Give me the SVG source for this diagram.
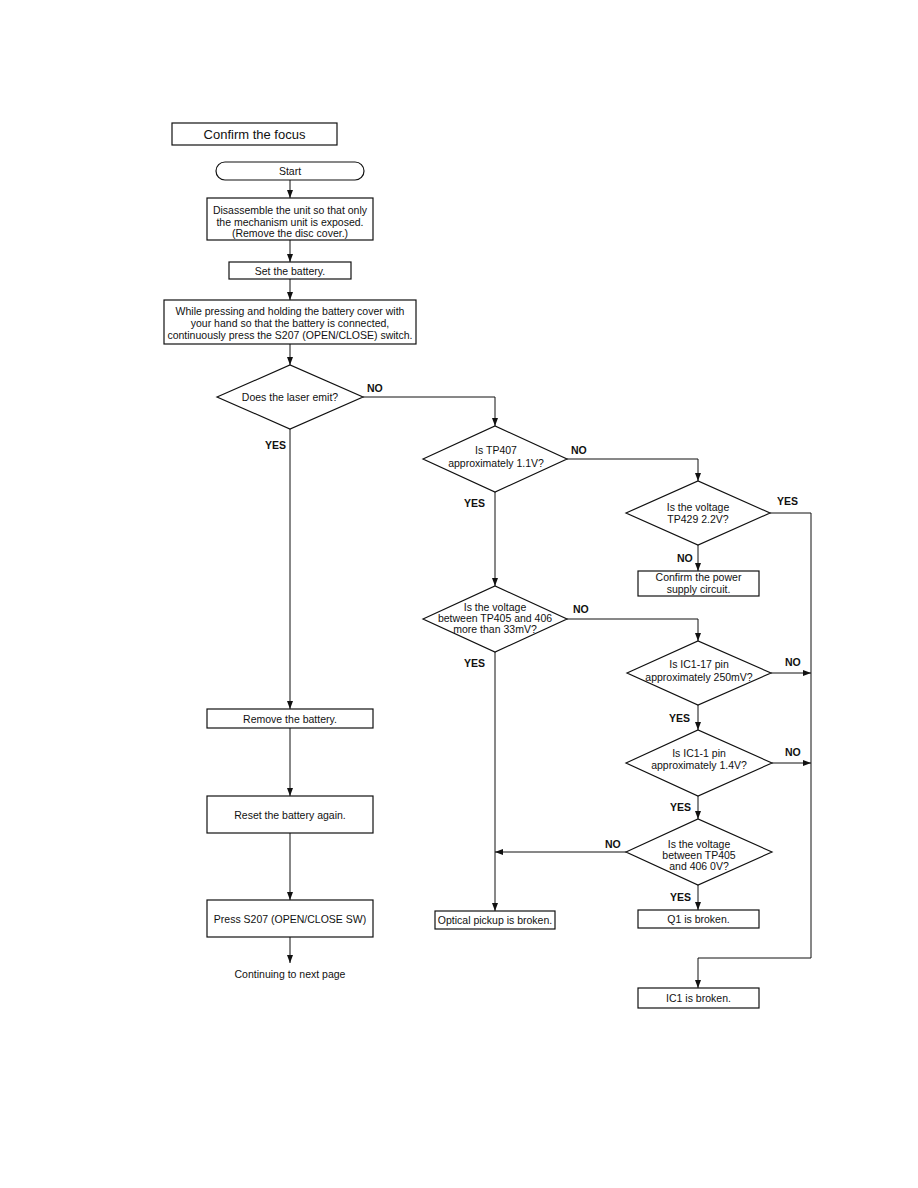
<svg xmlns="http://www.w3.org/2000/svg" width="918" height="1188" viewBox="0 0 918 1188">
<defs>
<marker id="ah" markerUnits="userSpaceOnUse" markerWidth="8" markerHeight="6" refX="8" refY="3" orient="auto">
<path d="M0,0 L8,3 L0,6 z" fill="#111"/>
</marker>
<style>
.box{fill:#fff;stroke:#111;stroke-width:1.2}
.t{font-family:"Liberation Sans",Arial,sans-serif;font-size:10.5px;fill:#111;text-anchor:middle}
.lbl{font-family:"Liberation Sans",Arial,sans-serif;font-size:10.5px;font-weight:bold;fill:#111}
.c{fill:none;stroke:#111;stroke-width:1}
.c line,.c polyline{marker-end:url(#ah)}
</style>
</defs>
<rect width="918" height="1188" fill="#fff"/>

<g id="title">
<rect class="box" x="172" y="123" width="165" height="22"/>
<text class="t" x="254.5" y="139" style="font-size:13px">Confirm the focus</text>
</g>

<g id="connectors" class="c">
<line x1="290" y1="180" x2="290" y2="198"/>
<line x1="290" y1="240" x2="290" y2="262"/>
<line x1="290" y1="279" x2="290" y2="300"/>
<line x1="290" y1="344" x2="290" y2="365"/>
<polyline points="363,397 495,397 495,426"/>
<line x1="290" y1="429" x2="290" y2="709"/>
<line x1="290" y1="728" x2="290" y2="796"/>
<line x1="290" y1="833" x2="290" y2="900"/>
<line x1="290" y1="937" x2="290" y2="963"/>
<polyline points="567,459 698,459 698,481"/>
<line x1="495" y1="492" x2="495" y2="586"/>
<polyline points="770,513 811,513 811,958 698,958 698,988"/>
<line x1="698" y1="545" x2="698" y2="571"/>
<polyline points="567,619 698,619 698,641"/>
<line x1="495" y1="652" x2="495" y2="911"/>
<line x1="771" y1="673" x2="811" y2="673"/>
<line x1="698" y1="705" x2="698" y2="730"/>
<line x1="772" y1="763" x2="811" y2="763"/>
<line x1="698" y1="796" x2="698" y2="819"/>
<line x1="626" y1="852" x2="495" y2="852"/>
<line x1="698" y1="885" x2="698" y2="910"/>
</g>

<g id="labels">
<text class="lbl" x="367" y="392">NO</text>
<text class="lbl" x="265" y="449">YES</text>
<text class="lbl" x="571" y="454">NO</text>
<text class="lbl" x="464" y="507">YES</text>
<text class="lbl" x="777" y="505">YES</text>
<text class="lbl" x="677" y="562">NO</text>
<text class="lbl" x="573" y="613">NO</text>
<text class="lbl" x="464" y="667">YES</text>
<text class="lbl" x="785" y="666">NO</text>
<text class="lbl" x="669" y="722">YES</text>
<text class="lbl" x="785" y="756">NO</text>
<text class="lbl" x="670" y="811">YES</text>
<text class="lbl" x="605" y="848">NO</text>
<text class="lbl" x="670" y="901">YES</text>
</g>

<g id="start">
<rect class="box" x="216" y="162" width="148" height="18" rx="9" ry="9"/>
<text class="t" x="290" y="175">Start</text>
</g>

<g id="disassemble">
<rect class="box" x="207" y="198" width="166" height="42"/>
<text class="t" x="290" y="214">Disassemble the unit so that only</text>
<text class="t" x="290" y="226">the mechanism unit is exposed.</text>
<text class="t" x="290" y="237">(Remove the disc cover.)</text>
</g>

<g id="set-battery">
<rect class="box" x="229" y="262" width="122" height="17"/>
<text class="t" x="290" y="275">Set the battery.</text>
</g>

<g id="press-hold">
<rect class="box" x="164" y="300" width="252" height="44"/>
<text class="t" x="290" y="315">While pressing and holding the battery cover with</text>
<text class="t" x="290" y="327">your hand so that the battery is connected,</text>
<text class="t" x="290" y="339">continuously press the S207 (OPEN/CLOSE) switch.</text>
</g>

<g id="d-laser">
<polygon class="box" points="217,397 290,365 363,397 290,429"/>
<text class="t" x="290" y="401">Does the laser emit?</text>
</g>

<g id="d-tp407">
<polygon class="box" points="423,459 495,426 567,459 495,492"/>
<text class="t" x="496" y="454">Is TP407</text>
<text class="t" x="496" y="467">approximately 1.1V?</text>
</g>

<g id="d-tp429">
<polygon class="box" points="626,513 698,481 770,513 698,545"/>
<text class="t" x="698" y="511">Is the voltage</text>
<text class="t" x="698" y="523">TP429 2.2V?</text>
</g>

<g id="power-supply">
<rect class="box" x="638" y="571" width="121" height="25"/>
<text class="t" x="698.5" y="581">Confirm the power</text>
<text class="t" x="698.5" y="593">supply circuit.</text>
</g>

<g id="d-33mv">
<polygon class="box" points="423,619 495,586 567,619 495,652"/>
<text class="t" x="495" y="611">Is the voltage</text>
<text class="t" x="495" y="622">between TP405 and 406</text>
<text class="t" x="495" y="633">more than 33mV?</text>
</g>

<g id="d-ic1-17">
<polygon class="box" points="627,673 698,641 771,673 698,705"/>
<text class="t" x="699" y="668">Is IC1-17 pin</text>
<text class="t" x="699" y="681">approximately 250mV?</text>
</g>

<g id="d-ic1-1">
<polygon class="box" points="626,763 698,730 772,763 698,796"/>
<text class="t" x="699" y="757">Is IC1-1 pin</text>
<text class="t" x="699" y="769">approximately 1.4V?</text>
</g>

<g id="d-0v">
<polygon class="box" points="626,852 698,819 772,852 698,885"/>
<text class="t" x="699" y="848">Is the voltage</text>
<text class="t" x="699" y="859">between TP405</text>
<text class="t" x="699" y="870">and 406 0V?</text>
</g>

<g id="remove-battery">
<rect class="box" x="207" y="709" width="166" height="19"/>
<text class="t" x="290" y="723">Remove the battery.</text>
</g>

<g id="reset-battery">
<rect class="box" x="207" y="796" width="166" height="37"/>
<text class="t" x="290" y="819">Reset the battery again.</text>
</g>

<g id="press-s207">
<rect class="box" x="207" y="900" width="166" height="37"/>
<text class="t" x="290" y="923">Press S207 (OPEN/CLOSE SW)</text>
</g>

<g id="continuing">
<text class="t" x="290" y="978">Continuing to next page</text>
</g>

<g id="optical-pickup">
<rect class="box" x="435" y="911" width="120" height="18"/>
<text class="t" x="495" y="924">Optical pickup is broken.</text>
</g>

<g id="q1-broken">
<rect class="box" x="638" y="910" width="121" height="18"/>
<text class="t" x="698.5" y="923">Q1 is broken.</text>
</g>

<g id="ic1-broken">
<rect class="box" x="638" y="988" width="121" height="20"/>
<text class="t" x="698.5" y="1002">IC1 is broken.</text>
</g>
</svg>
